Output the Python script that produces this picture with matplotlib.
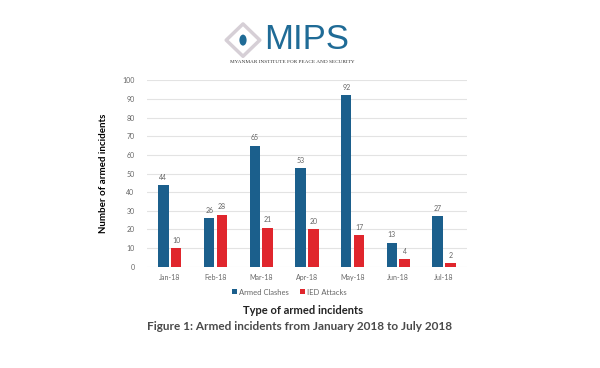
import matplotlib.pyplot as plt
import matplotlib.patches as mpatches
import numpy as np

months = ['Jan-18', 'Feb-18', 'Mar-18', 'Apr-18', 'May-18', 'Jun-18', 'Jul-18']
armed_clashes = [44, 26, 65, 53, 92, 13, 27]
ied_attacks = [10, 28, 21, 20, 17, 4, 2]

blue = '#1b5f8c'
red = '#e0262d'
grey = '#666666'

plt.rcParams['font.family'] = ['Lato', 'DejaVu Sans']

fig = plt.figure(figsize=(6, 3.68), dpi=100)
ax = fig.add_axes([0.245, 0.275, 0.533, 0.507])

x = np.arange(len(months))
w = 0.23
b1 = ax.bar(x - 0.14, armed_clashes, w, color=blue, label='Armed Clashes', zorder=3)
b2 = ax.bar(x + 0.14, ied_attacks, w, color=red, label='IED Attacks', zorder=3)

for bars in (b1, b2):
    for r in bars:
        ax.annotate(str(int(r.get_height())), (r.get_x() + r.get_width() / 2, r.get_height()),
                    xytext=(0, 3), textcoords='offset points', ha='center', va='bottom',
                    fontsize=5, color=grey)

ax.set_xlim(-0.5, 6.5)
ax.set_ylim(0, 100)
ax.set_yticks(range(0, 101, 10))
ax.set_xticks(x)
ax.set_xticklabels(months)
ax.tick_params(axis='both', length=0, labelsize=5, labelcolor=grey)
ax.tick_params(axis='y', pad=9)
ax.tick_params(axis='x', pad=5)
ax.grid(axis='y', color='#e3e3e3', linewidth=0.8, zorder=0)
for s in ax.spines.values():
    s.set_visible(False)

ax.set_ylabel('Number of armed incidents', fontsize=7, fontweight='bold', labelpad=10)

ax.legend(loc='upper center', bbox_to_anchor=(0.445, -0.08), bbox_transform=ax.transAxes,
          ncol=2, frameon=False, fontsize=5.5, handlelength=0.6, handleheight=0.6,
          handletextpad=0.3, columnspacing=1.5, labelcolor=grey)

fig.text(0.505, 0.157, 'Type of armed incidents', ha='center', va='center',
         fontsize=8, fontweight='bold', color='#222222')
fig.text(0.5, 0.112, 'Figure 1: Armed incidents from January 2018 to July 2018', ha='center',
         va='center', fontsize=8.5, fontweight='bold', color='#4a4a4a')

# logo
fig.text(0.44, 0.893, 'MIPS', ha='left', va='center', fontsize=25,
         family='Liberation Sans', color='#1f6b96')
fig.text(0.487, 0.832, 'MYANMAR INSTITUTE FOR PEACE AND SECURITY', ha='center', va='center',
         fontsize=3.8, family='Liberation Serif', color='#333333')
cx, cy, hx, hy = 0.405, 0.891, 0.028, 0.044
diamond = mpatches.Polygon([(cx - hx, cy), (cx, cy + hy), (cx + hx, cy), (cx, cy - hy)],
                           closed=True, transform=fig.transFigure, facecolor='none',
                           edgecolor='#d6cfd6', linewidth=2.5, joinstyle='round')
fig.add_artist(diamond)
fig.add_artist(mpatches.Ellipse((cx, cy), 0.012, 0.03, transform=fig.transFigure,
                                facecolor='#1f6b96', edgecolor='none'))

fig.savefig('out.png', dpi=100)
